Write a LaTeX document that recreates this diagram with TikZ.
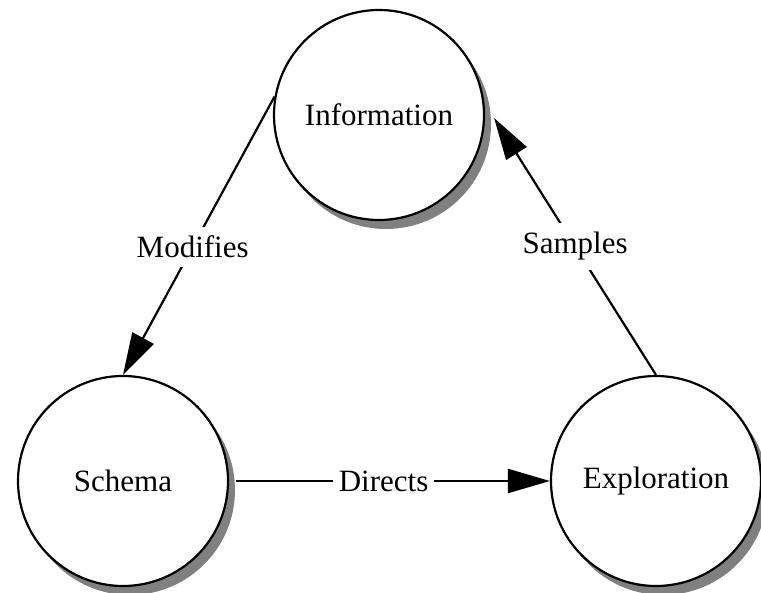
\documentclass[tikz,border=0pt]{standalone}
\usepackage{fontspec}
\setmainfont{Liberation Serif}
\usetikzlibrary{shadows,arrows.meta,calc}
\begin{document}
\begin{tikzpicture}[x=1pt,y=-1pt,
  state/.style={circle, draw=black, line width=2.2pt, fill=white, minimum size=210pt, inner sep=0pt,
    font=\fontsize{31}{37}\selectfont,
    drop shadow={shadow xshift=7pt, shadow yshift=-9pt, fill=black!50, opacity=1}},
  conn/.style={line width=2.2pt, -{Triangle[length=42pt,width=24pt]}},
  lbl/.style={fill=white, inner xsep=6pt, inner ysep=9pt, font=\fontsize{31}{37}\selectfont}]
\useasboundingbox (0,0) rectangle (761,593);
\node[state] (info) at (379,115) {Information};
\node[state] (schema) at (123,481) {Schema};
\node[state] (expl) at (656,481) {Exploration};
\coordinate (infoS) at ([shift={(9pt,-3pt)}]info.east);
\coordinate (schemaS) at ([shift={(7pt,0pt)}]schema.east);
\draw[conn] (info.170) -- node[lbl, pos=0.54] {Modifies} (schema.north);
\draw[conn] (expl.north) -- node[lbl, pos=0.5] {Samples} (infoS);
\draw[conn] (schemaS) -- node[lbl, pos=0.47] {Directs} (expl.west);
\end{tikzpicture}
\end{document}
